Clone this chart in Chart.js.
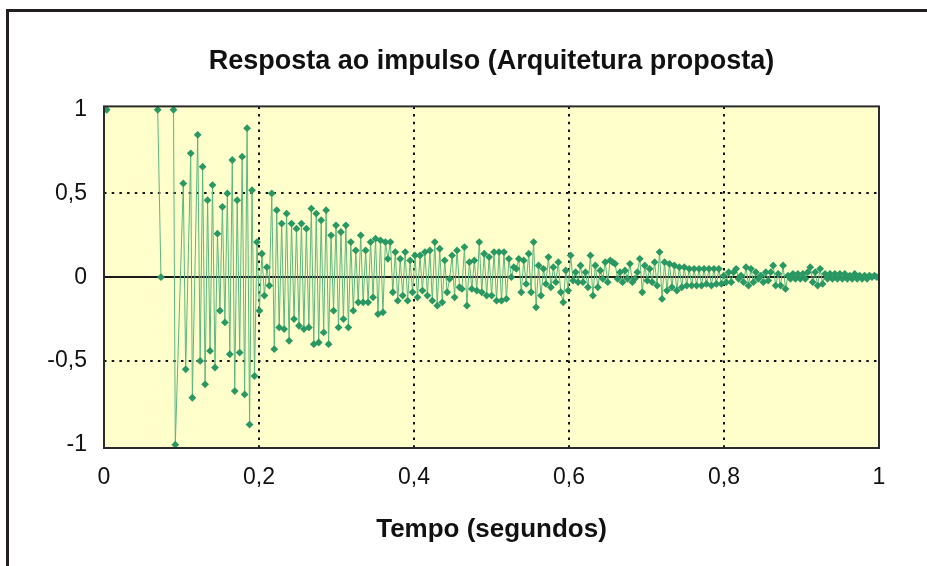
<!DOCTYPE html>
<html>
<head>
<meta charset="utf-8">
<script src="https://cdn.jsdelivr.net/npm/chart.js@4.4.1/dist/chart.umd.min.js"></script>
<style>
  html, body { margin: 0; padding: 0; background: #fff; overflow: hidden; width: 927px; height: 566px; }
  #moldura {
    position: absolute; left: 6px; top: 9px; width: 1000px; height: 1000px;
    border-left: 3px solid #231f20; border-top: 3px solid #231f20;
    pointer-events: none;
  }
  #grafico { position: absolute; left: 0; top: 0; }
</style>
</head>
<body>
<canvas id="grafico" width="927" height="566"></canvas>
<div id="moldura"></div>
<script>
// impulso inicial e primeiras amostras (espaçamento irregular, null = sem ligação)
const tempoInicial = [0.0035, 0.036, 0.0693, 0.0735, 0.081, 0.0897, 0.092, 0.1023, 0.1054, 0.1119, 0.114];
const respostaInicial = [1, null, 1, 0, null, 1, -1, 0.56, -0.55, 0.74, -0.72];

// amostras seguintes, uma a cada passo de tempo
const inicioAmostras = 0.1209;
const passo = 0.003187;
const resposta = [
  // 0,12 - 0,2
  0.85, -0.50, 0.66, -0.64, 0.46, -0.44, 0.55, -0.54, 0.26, -0.20,
  0.42, -0.27, 0.50, -0.46, 0.70, -0.68, 0.46, -0.45, 0.72, -0.70,
  0.89, -0.88, 0.52, -0.59, 0.21,
  // 0,2 - 0,4
  -0.20, 0.14, -0.11, 0.06, -0.05, 0.50, -0.43, 0.40, -0.30, 0.32,
  -0.31, 0.38, -0.38, 0.32, -0.25, 0.29, -0.29, 0.32, -0.31, 0.29,
  -0.30, 0.41, -0.40, 0.38, -0.39, 0.34, -0.33, 0.40, -0.40, 0.25,
  -0.20, 0.31, -0.30, 0.27, -0.25, 0.31, -0.30, 0.21, -0.20, 0.16,
  -0.15, 0.25, -0.15, 0.16, -0.15, 0.21, -0.12, 0.23, -0.22, 0.22,
  -0.21, 0.21, 0.11, 0.21, -0.09, 0.15, -0.14, 0.11, -0.11, 0.15,
  -0.14, 0.10, -0.09,
  // 0,4 - 0,6
  0.13, -0.12, 0.13, -0.08, 0.15, -0.11, 0.16, -0.14, 0.21, -0.17,
  0.17, -0.15, 0.10, -0.09, -0.01, 0.13, -0.12, 0.16, -0.06, -0.07,
  0.18, -0.17, 0.09, -0.07, 0.10, -0.08, 0.21, -0.09, 0.14, -0.11,
  0.12, -0.11, 0.15, -0.14, 0.15, -0.14, 0.15, -0.13, 0.11, 0.00,
  0.06, 0.05, 0.11, -0.09, 0.10, -0.04, 0.14, -0.09, 0.21, -0.18,
  0.07, -0.11, 0.05, -0.04, 0.12, -0.06, 0.06, -0.03, 0.09, -0.09,
  -0.15, 0.04, -0.08,
  // 0,6 - 0,8
  0.13, -0.02, 0.03, -0.03, 0.07, -0.03, 0.03, -0.06, 0.13, -0.11,
  0.07, -0.06, 0.04, -0.01, 0.09, -0.03, 0.10, 0.09, 0.08, -0.01,
  0.03, -0.03, 0.04, -0.01, 0.08, -0.03, -0.01, 0.03, 0.11, -0.09,
  0.07, -0.02, 0.05, -0.03, 0.09, -0.05, 0.15, -0.13, 0.09, -0.08,
  0.08, -0.06, 0.07, -0.08, 0.06, -0.06, 0.06, -0.05, 0.05, -0.05,
  0.05, -0.05, 0.05, -0.05, 0.05, -0.04, 0.05, -0.05, 0.05, -0.04,
  0.05, -0.04,
  // 0,8 - 1
  0.01, -0.03, 0.03, -0.03, 0.03, 0.05, -0.01, 0.01, -0.03, 0.06,
  -0.05, 0.05, -0.03, 0.03, -0.01, 0.01, -0.03, 0.03, -0.02, 0.03,
  0.07, -0.05, 0.02, -0.05, 0.07, -0.07, 0.01, -0.01, 0.02, -0.01,
  0.02, -0.01, 0.02, -0.01, 0.03, 0.06, -0.03, 0.03, -0.05, 0.05,
  -0.04, 0.02, -0.01, 0.02, -0.01, 0.02, -0.01, 0.02, -0.01, 0.02,
  -0.01, 0.01, -0.01, 0.02, -0.01, 0.01, -0.01, 0.01, -0.01, 0.01,
  0.00, 0.01, 0.00
];

const ticksTempo = [0, 0.2, 0.4, 0.6, 0.8, 1];
const ticksResposta = [-1, -0.5, 0, 0.5, 1];

const pontos = tempoInicial.map((t, i) => ({ x: t, y: respostaInicial[i] }));
resposta.forEach((v, i) => pontos.push({ x: inicioAmostras + i * passo, y: v }));

const virgula = v => String(Math.round(v * 10) / 10).replace('.', ',');
const fonte = '"Liberation Sans", Arial, sans-serif';

// fundo amarelo, linha do zero e moldura da área do gráfico
const areaPlot = {
  id: 'areaPlot',
  beforeDraw(chart) {
    const { ctx, chartArea: a } = chart;
    ctx.save();
    ctx.fillStyle = '#ffffcc';
    ctx.fillRect(a.left, a.top, a.right - a.left, a.bottom - a.top);
    ctx.restore();
  },
  beforeDatasetsDraw(chart) {
    const { ctx, chartArea: a } = chart;
    const y0 = Math.round(chart.scales.y.getPixelForValue(0));
    ctx.save();
    ctx.strokeStyle = '#1a1a1a';
    ctx.lineWidth = 2;
    ctx.beginPath();
    ctx.moveTo(a.left, y0);
    ctx.lineTo(a.right, y0);
    ctx.stroke();
    ctx.restore();
  },
  afterDatasetsDraw(chart) {
    const { ctx, chartArea: a } = chart;
    ctx.save();
    ctx.strokeStyle = '#2b2b2b';
    ctx.lineWidth = 2;
    ctx.strokeRect(a.left, a.top, a.right - a.left, a.bottom - a.top);
    ctx.restore();
  }
};

new Chart(document.getElementById('grafico'), {
  type: 'line',
  data: {
    datasets: [{
      data: pontos,
      borderColor: '#5db680',
      borderWidth: 1,
      pointStyle: 'rectRot',
      pointRadius: 3.9,
      pointBackgroundColor: '#2a9863',
      pointBorderColor: '#2a9863',
      pointBorderWidth: 0,
      spanGaps: false,
      tension: 0,
      clip: 0
    }]
  },
  options: {
    responsive: false,
    animation: false,
    devicePixelRatio: 1,
    layout: { padding: { left: 0, right: 48, top: 0, bottom: 0 } },
    plugins: {
      legend: { display: false },
      tooltip: { enabled: false },
      title: {
        display: true,
        fullSize: false,
        text: 'Resposta ao impulso (Arquitetura proposta)',
        color: '#111',
        font: { family: fonte, size: 27, weight: 'bold' },
        padding: { top: 45, bottom: 29 }
      }
    },
    scales: {
      x: {
        type: 'linear',
        min: 0,
        max: 1,
        afterFit(scale) { scale.height = 118; },
        afterBuildTicks(scale) { scale.ticks = ticksTempo.map(v => ({ value: v })); },
        grid: {
          drawTicks: false,
          lineWidth: 2,
          color: c => (c.tick && (c.tick.value === 0 || c.tick.value === 1)) ? 'rgba(0,0,0,0)' : '#111'
        },
        border: { display: false, dash: [2.5, 5.2] },
        ticks: {
          padding: 16,
          color: '#111',
          font: { family: fonte, size: 23 },
          callback: v => virgula(v)
        },
        title: {
          display: true,
          text: 'Tempo (segundos)',
          color: '#111',
          font: { family: fonte, size: 26, weight: 'bold' },
          padding: { top: 0, bottom: 21 }
        }
      },
      y: {
        min: -1.02,
        max: 1.02,
        afterFit(scale) { scale.width = 104; },
        afterBuildTicks(scale) { scale.ticks = ticksResposta.map(v => ({ value: v })); },
        grid: {
          drawTicks: false,
          lineWidth: 2,
          color: c => (c.tick && Math.abs(c.tick.value) === 0.5) ? '#111' : 'rgba(0,0,0,0)'
        },
        border: { display: false, dash: [2.5, 5.2] },
        ticks: {
          padding: 17,
          color: '#111',
          font: { family: fonte, size: 23 },
          callback: v => virgula(v)
        }
      }
    }
  },
  plugins: [areaPlot]
});
</script>
</body>
</html>
